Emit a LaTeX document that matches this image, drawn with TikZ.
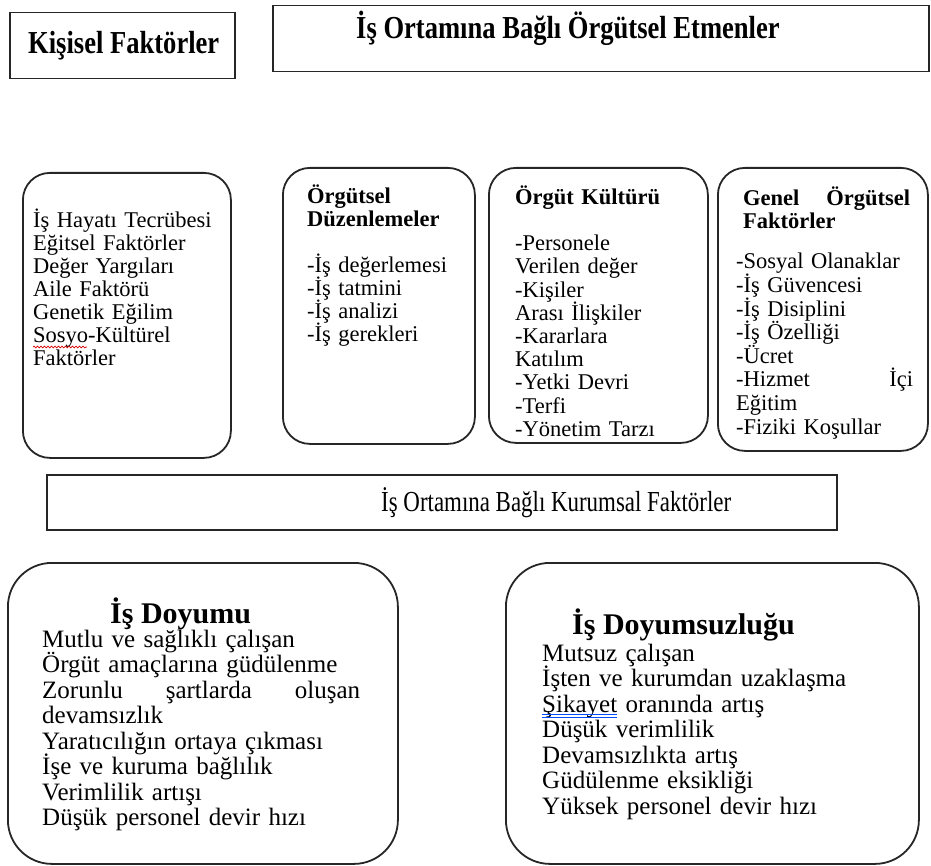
\documentclass[tikz,border=0pt]{standalone}
\usepackage{fontspec}
\setmainfont{Liberation Serif}
\usepackage{graphicx}
\usetikzlibrary{decorations.pathmorphing}

% fixed baseline distances inside the text blocks, whatever the accents
\newcommand{\fixedlines}{\lineskiplimit=-40pt\lineskip=0pt}

\begin{document}
\begin{tikzpicture}[x=1pt,y=-1pt,
  frame/.style={draw=black!85, line width=1.5pt, rectangle, inner sep=0pt, anchor=north west},
  midbox/.style={frame, line width=1.8pt, rounded corners=27pt},
  lowbox/.style={frame, line width=1.8pt, rounded corners=44pt},
  headtxt/.style={inner sep=0pt, anchor=base west, font=\fontsize{32}{36}\selectfont\bfseries},
  listtxt/.style={inner sep=0pt, anchor=base west, align=left, font=\fontsize{22.5}{23}\selectfont\fixedlines},
  bigtxt/.style={inner sep=0pt, anchor=base west, align=left, font=\fontsize{25}{25.5}\selectfont\fixedlines},
  bigtitle/.style={inner sep=0pt, anchor=base west, font=\fontsize{30}{34}\selectfont\bfseries}
]
\useasboundingbox (0,0) rectangle (931,866);

% heading boxes
\node[frame, minimum width=225pt, minimum height=66pt] (kisisel) at (9,12) {};
\node[headtxt] (kisiselT) at (28,54) {\scalebox{0.83}[1]{Kişisel Faktörler}};
\node[frame, minimum width=656pt, minimum height=66pt] (orgut) at (272,5) {};
\node[headtxt] (orgutT) at (356,39) {\scalebox{0.83}[1]{İş Ortamına Bağlı Örgütsel Etmenler}};

% four factor boxes
\node[midbox, minimum width=208pt, minimum height=285pt] (b1) at (22,172) {};
\node[listtxt, text width=190pt] (t1) at (33,228) {İş Hayatı Tecrübesi\\
Eğitsel Faktörler\\
Değer Yargıları\\
Aile Faktörü\\
Genetik Eğilim\\
Sosyo-Kültürel\\
Faktörler};

\node[midbox, minimum width=192pt, minimum height=276pt] (b2) at (282,167) {};
\node[listtxt, text width=160pt] (t2) at (307,204) {\textbf{Örgütsel}\\
\textbf{Düzenlemeler}\\[23pt]
-İş değerlemesi\\
-İş tatmini\\
-İş analizi\\
-İş gerekleri};

\node[midbox, minimum width=219pt, minimum height=275pt] (b3) at (488,167) {};
\node[listtxt, text width=185pt, font=\fontsize{22.5}{23.2}\selectfont\fixedlines] (t3) at (515,205) {\textbf{Örgüt Kültürü}\\[22.6pt]
-Personele\\
Verilen değer\\
-Kişiler\\
Arası İlişkiler\\
-Kararlara\\
Katılım\\
-Yetki Devri\\
-Terfi\\
-Yönetim Tarzı};

\node[midbox, minimum width=210pt, minimum height=283pt] (b4) at (717,167) {};
\node[listtxt, text width=167pt] (t4a) at (743,206) {\textbf{Genel}\hfill\textbf{Örgütsel}\\
\textbf{Faktörler}};
\node[listtxt, text width=177pt, font=\fontsize{22.5}{23.6}\selectfont\fixedlines] (t4b) at (736,269) {-Sosyal Olanaklar\\
-İş Güvencesi\\
-İş Disiplini\\
-İş Özelliği\\
-Ücret\\
-Hizmet\hfill İçi\\
Eğitim\\
-Fiziki Koşullar};

% institutional factors bar
\node[frame, minimum width=790pt, minimum height=55pt] (kurum) at (46,474) {};
\node[inner sep=0pt, anchor=base west, font=\fontsize{29}{32}\selectfont] (kurumT) at (381,511) {\scalebox{0.79}[1]{İş Ortamına Bağlı Kurumsal Faktörler}};

% outcome boxes
\node[lowbox, minimum width=390pt, minimum height=301pt] (doyum) at (7,562) {};
\node[bigtitle] (doyumT) at (110,623) {İş Doyumu};
\node[bigtxt, text width=318pt] (doyumL) at (42,647) {Mutlu ve sağlıklı çalışan\\
Örgüt amaçlarına güdülenme\\
Zorunlu\hfill şartlarda\hfill oluşan\\
devamsızlık\\
Yaratıcılığın ortaya çıkması\\
İşe ve kuruma bağlılık\\
Verimlilik artışı\\
Düşük personel devir hızı};

\node[lowbox, minimum width=413pt, minimum height=301pt] (doyumsuz) at (505,562) {};
\node[bigtitle] (doyumsuzT) at (572,634) {İş Doyumsuzluğu};
\node[bigtxt, text width=320pt] (doyumsuzL) at (542,661) {Mutsuz çalışan\\
İşten ve kurumdan uzaklaşma\\
Şikayet oranında artış\\
Düşük verimlilik\\
Devamsızlıkta artış\\
Güdülenme eksikliği\\
Yüksek personel devir hızı};

% proofing marks under two words
\draw[red!85!black, line width=0.7pt, decorate,
  decoration={snake, amplitude=0.9pt, segment length=3.5pt}] (33,347) -- (87,347);
\draw[blue!70!cyan, line width=0.7pt] (542,714.5) -- (617,714.5);
\draw[blue!70!cyan, line width=0.7pt] (542,717) -- (617,717);
\end{tikzpicture}
\end{document}
